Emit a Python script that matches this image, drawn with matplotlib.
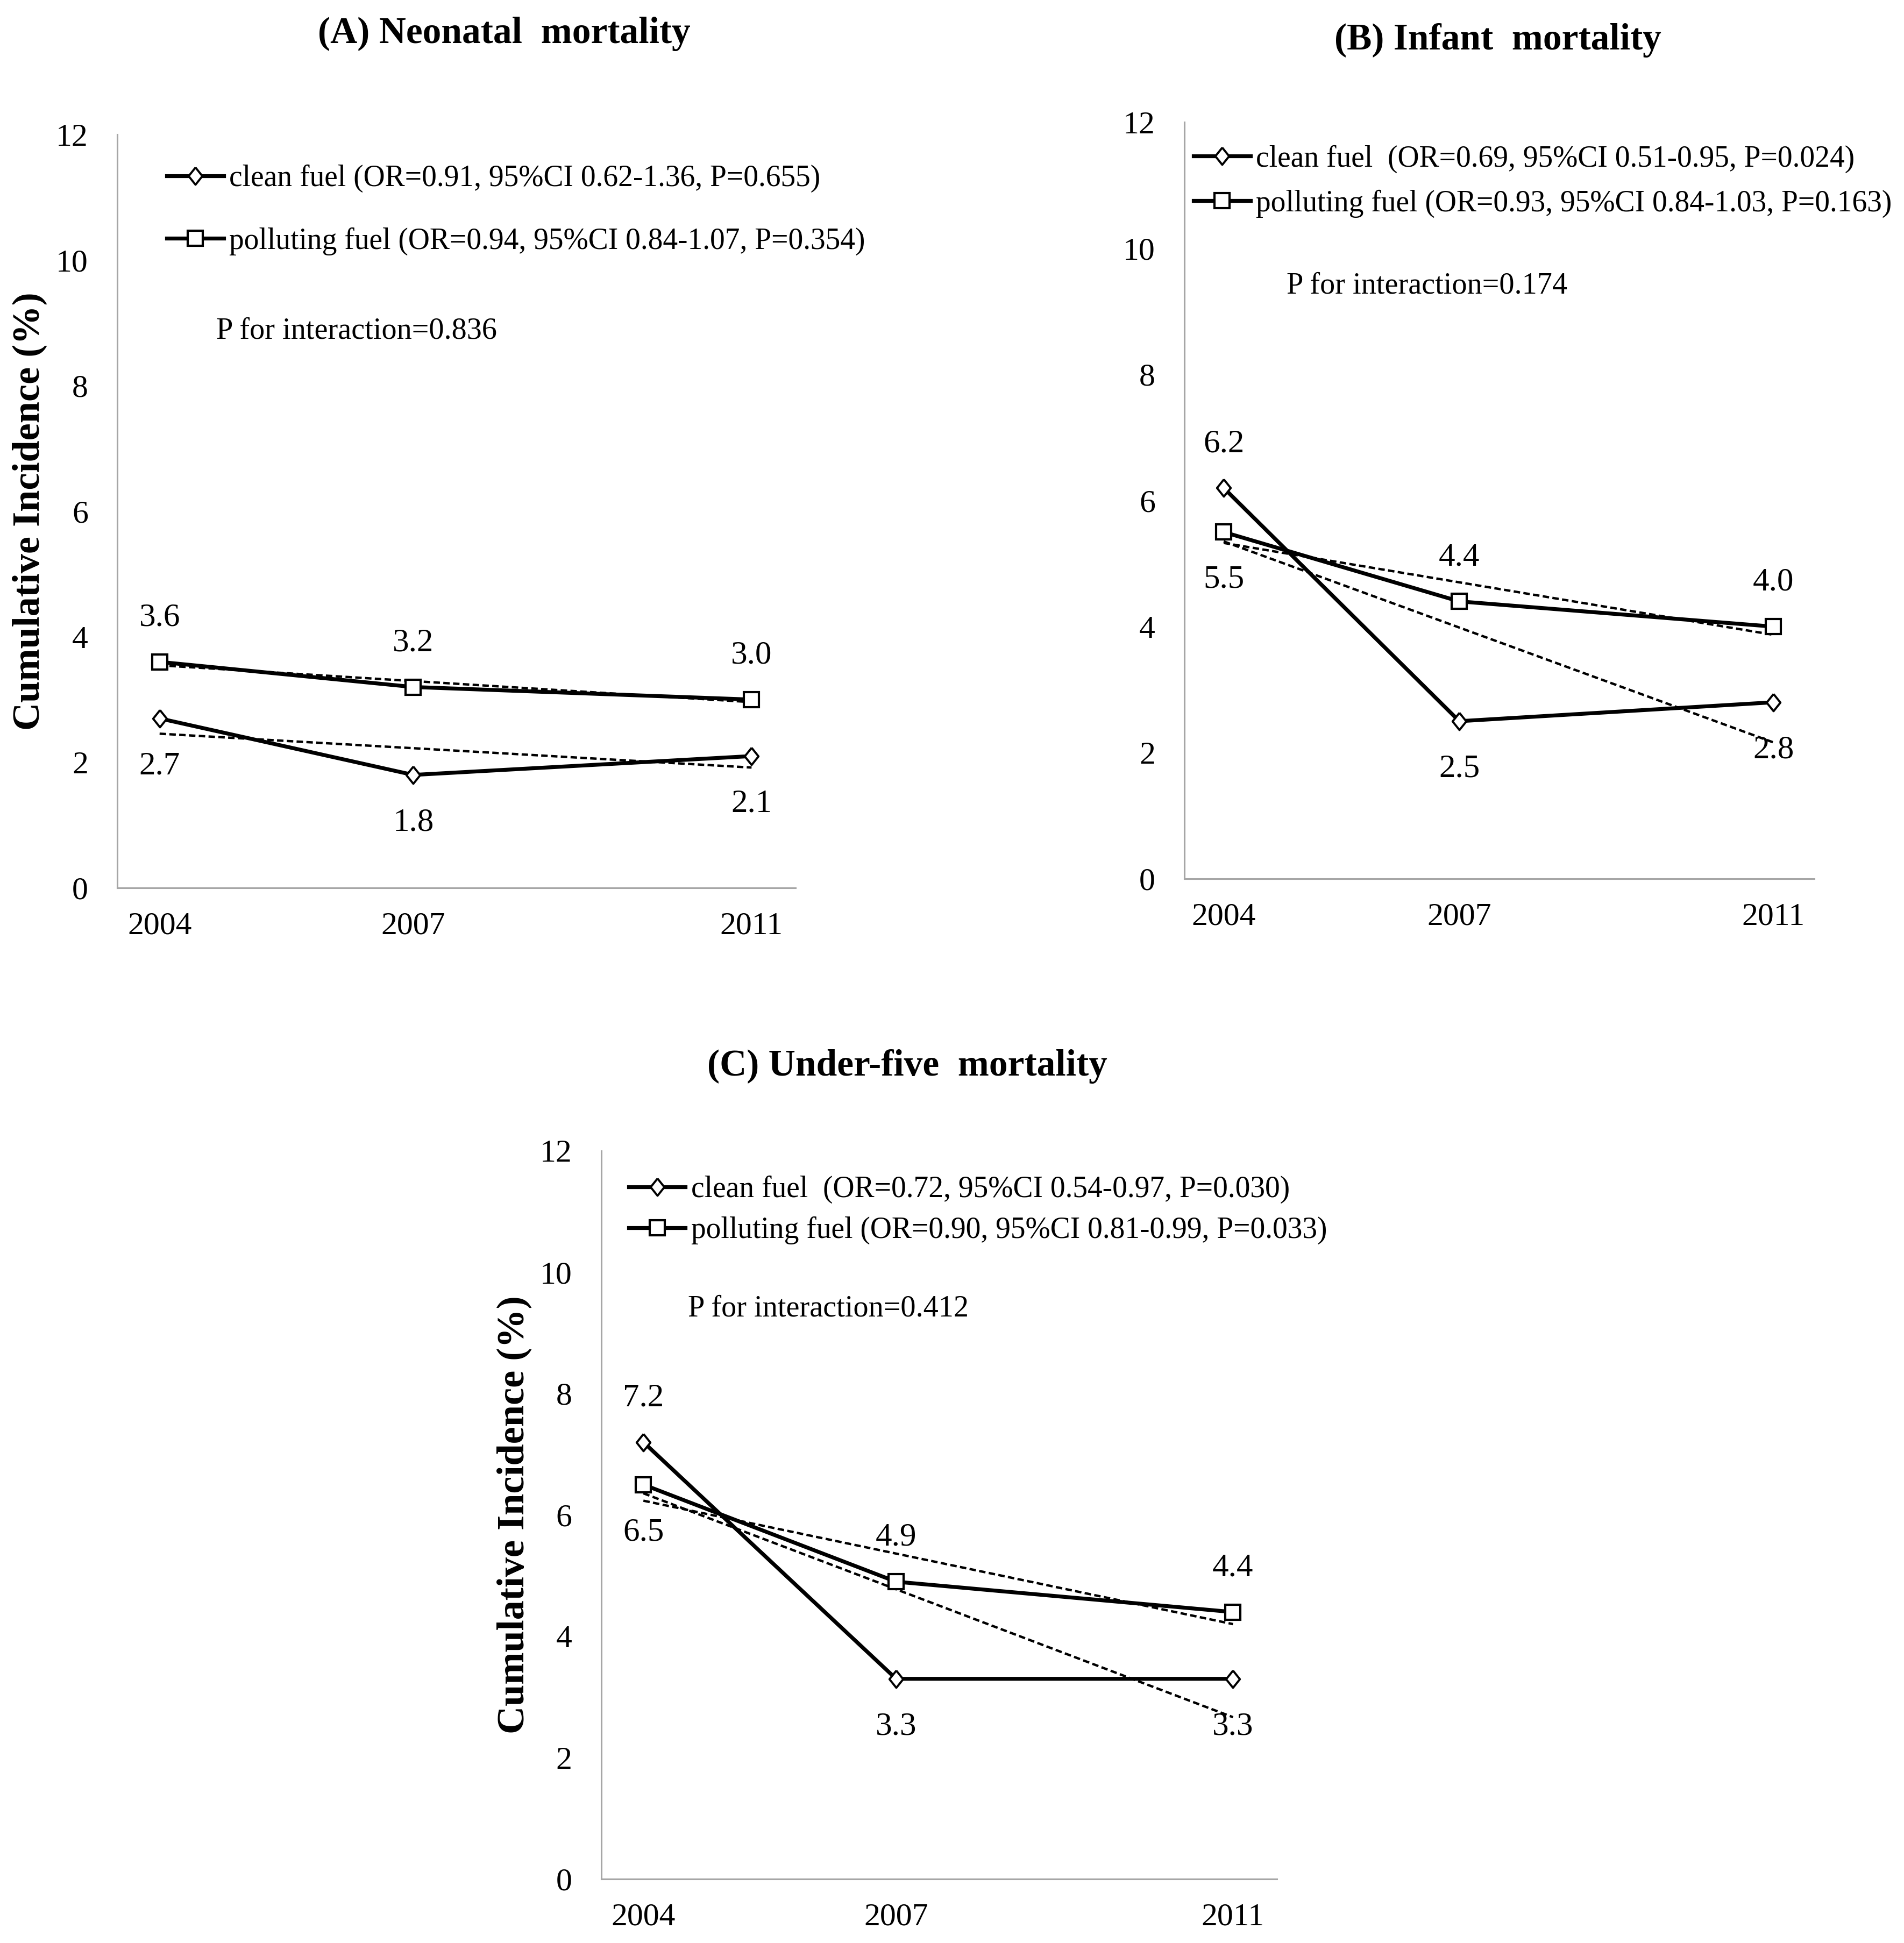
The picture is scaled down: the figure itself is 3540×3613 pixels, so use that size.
import numpy as np
import matplotlib
matplotlib.use("Agg")
import matplotlib.pyplot as plt

plt.rcParams['font.family'] = ['Liberation Serif', 'DejaVu Serif']

# survey years and cumulative incidence (%)
years = [2004, 2007, 2011]

neonatal_clean = [2.7, 1.8, 2.1]
neonatal_polluting = [3.6, 3.2, 3.0]
infant_clean = [6.2, 2.5, 2.8]
infant_polluting = [5.5, 4.4, 4.0]
under5_clean = [7.2, 3.3, 3.3]
under5_polluting = [6.5, 4.9, 4.4]

neonatal_labels = ["clean fuel (OR=0.91, 95%CI 0.62-1.36, P=0.655)",
                   "polluting fuel (OR=0.94, 95%CI 0.84-1.07, P=0.354)"]
infant_labels = ["clean fuel  (OR=0.69, 95%CI 0.51-0.95, P=0.024)",
                 "polluting fuel (OR=0.93, 95%CI 0.84-1.03, P=0.163)"]
under5_labels = ["clean fuel  (OR=0.72, 95%CI 0.54-0.97, P=0.030)",
                 "polluting fuel (OR=0.90, 95%CI 0.81-0.99, P=0.033)"]

neonatal_p = "P for interaction=0.836"
infant_p = "P for interaction=0.174"
under5_p = "P for interaction=0.412"

y_ticks = [0, 2, 4, 6, 8, 10, 12]
y_title = "Cumulative Incidence (%)"

# slightly tall diamond like the Excel marker
diamond = [(0, 1), (0.8, 0), (0, -1), (-0.8, 0), (0, 1)]


def draw_panel(ax, clean, polluting, clean_pos, poll_pos, labels, p_text,
               p_xy, leg_anchor, leg_spacing, ylabel=False):
    clean_line, = ax.plot(years, clean, color='black', lw=5.2, marker=diamond,
                          ms=23, mfc='white', mec='black', mew=2.8, zorder=3)
    poll_line, = ax.plot(years, polluting, color='black', lw=5.2, marker='s',
                         ms=20, mfc='white', mec='black', mew=3.0, zorder=3)

    # linear trend lines (like the Excel ones)
    for vals in (clean, polluting):
        k, b = np.polyfit(years, vals, 1)
        xs = np.array([years[0], years[-1]])
        ax.plot(xs, k * xs + b, color='black', lw=3.2,
                ls=(0, (2.7, 1.4)), zorder=2)

    # value labels
    for vals, pos in ((clean, clean_pos), (polluting, poll_pos)):
        for x, y, p in zip(years, vals, pos):
            dy = 59 if p == 'above' else -64
            ax.annotate(f'{y:.1f}', (x, y), xytext=(0, dy),
                        textcoords='offset points', ha='center',
                        va='center', fontsize=44)

    ax.legend([clean_line, poll_line], labels, loc='upper left',
              bbox_to_anchor=leg_anchor, frameon=False, fontsize=40,
              borderpad=0, borderaxespad=0, handlelength=1.9,
              handletextpad=0.19, labelspacing=leg_spacing)
    ax.text(p_xy[0], p_xy[1], p_text, transform=ax.transAxes,
            ha='left', va='center', fontsize=40.5)

    ax.set_xlim(2003.5, 2011.52)
    ax.set_ylim(0, 12)
    ax.set_xticks(years)
    ax.set_yticks(y_ticks)
    ax.tick_params(axis='both', length=0, labelsize=43)
    ax.tick_params(axis='y', pad=39)
    ax.tick_params(axis='x', pad=32)
    for side in ('top', 'right'):
        ax.spines[side].set_visible(False)
    for side in ('left', 'bottom'):
        ax.spines[side].set_color('#a6a6a6')
        ax.spines[side].set_linewidth(2.2)
    if ylabel:
        ax.set_ylabel(y_title, fontsize=52, fontweight='bold', va='center')
        ax.yaxis.set_label_coords(-0.129, 0.5)


fig = plt.figure(figsize=(35.41, 36.13), dpi=100)
axA = fig.add_axes([0.0616, 0.5430, 0.3561, 0.3878])
axB = fig.add_axes([0.6219, 0.5477, 0.3307, 0.3894])
axC = fig.add_axes([0.3157, 0.0329, 0.3547, 0.3748])

draw_panel(axA, neonatal_clean, neonatal_polluting,
           ['below', 'below', 'below'], ['above', 'above', 'above'],
           neonatal_labels, neonatal_p, (0.146, 0.7395), (0.073, 0.960),
           1.15, ylabel=True)
draw_panel(axB, infant_clean, infant_polluting,
           ['above', 'below', 'below'], ['below', 'above', 'above'],
           infant_labels, infant_p, (0.162, 0.784), (0.0145, 0.970),
           0.55)
draw_panel(axC, under5_clean, under5_polluting,
           ['above', 'below', 'below'], ['below', 'above', 'above'],
           under5_labels, under5_p, (0.128, 0.783), (0.0406, 0.966),
           0.42, ylabel=True)

fig.text(0.2646, 0.9826, "(A) Neonatal  mortality", ha='center', va='center',
         fontsize=50, fontweight='bold')
fig.text(0.7865, 0.9792, "(B) Infant  mortality", ha='center', va='center',
         fontsize=50, fontweight='bold')
fig.text(0.4764, 0.4511, "(C) Under-five  mortality", ha='center', va='center',
         fontsize=50, fontweight='bold')

fig.savefig("out.png", dpi=100, facecolor='white')
